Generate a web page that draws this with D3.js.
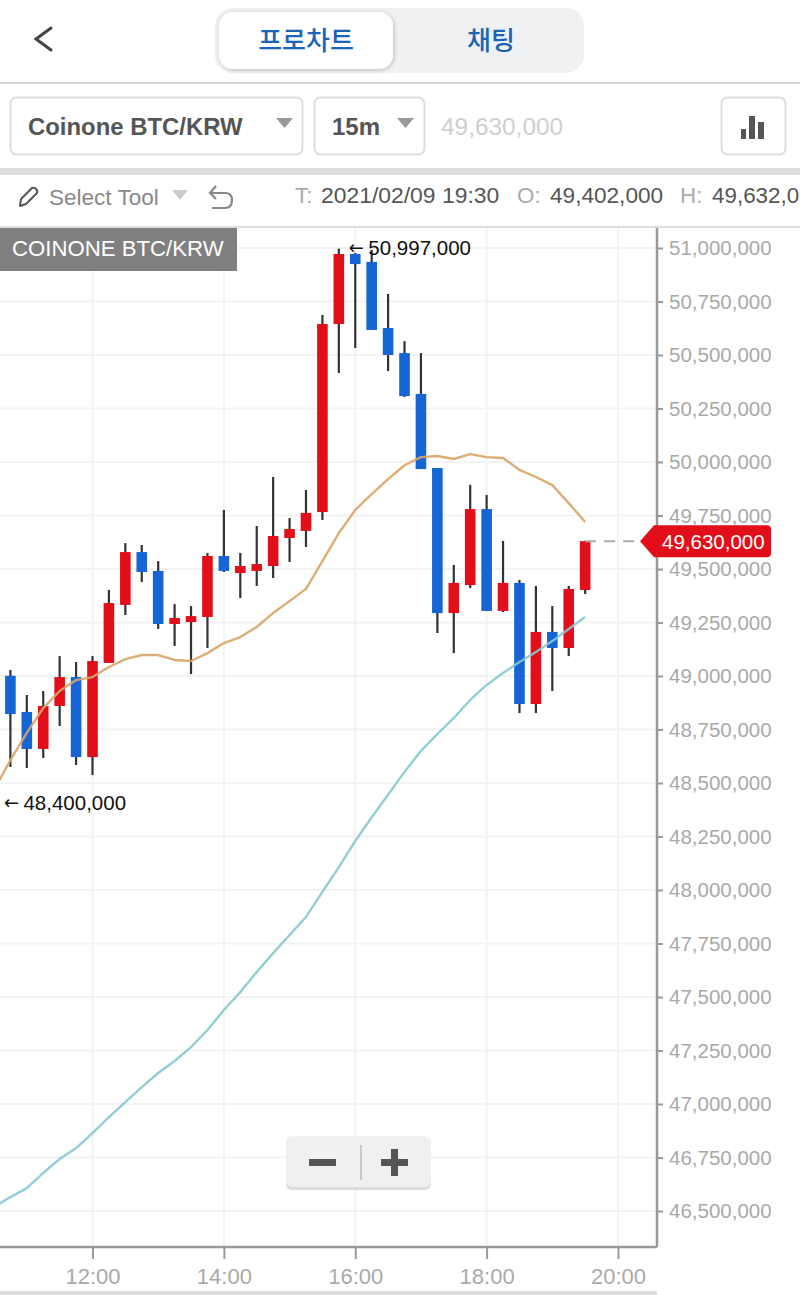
<!DOCTYPE html>
<html>
<head>
<meta charset="utf-8">
<title>Coinone BTC/KRW</title>
<script src="https://cdn.jsdelivr.net/npm/d3@7"></script>
<style>
  body { margin: 0; background: #fff; overflow: hidden; }
  text { font-family: "Liberation Sans", Arial, sans-serif; }
  .kr { font-family: "Noto Sans CJK KR", sans-serif; font-weight: 500; }
</style>
</head>
<body>
<div id="chart"></div>
<script>
// prices are in thousands of KRW
const times = ['10:45','11:00','11:15','11:30','11:45','12:00','12:15','12:30','12:45','13:00','13:15','13:30',
    '13:45','14:00','14:15','14:30','14:45','15:00','15:15','15:30','15:45','16:00','16:15','16:30',
    '16:45','17:00','17:15','17:30','17:45','18:00','18:15','18:30','18:45','19:00','19:15','19:30'];
const opens = [49001,48832,48659,48860,48995,48621,49061,49332,49579,49491,49243,49252,
    49276,49561,49481,49491,49514,49645,49678,49766,50645,50972,50935,50626,
    50509,50318,49972,49294,49425,49780,49304,49435,48869,49206,49131,49402];
const highs = [49028,48911,48930,49093,49065,49093,49402,49621,49612,49537,49336,49327,
    49575,49776,49575,49701,49930,49738,49869,50687,50997,50977,50991,50785,
    50565,50509,49972,49519,49893,49846,49631,49449,49421,49327,49421,49632];
const lows = [48575,48570,48617,48766,48584,48537,49061,49285,49439,49220,49140,49009,
    49131,49486,49364,49421,49458,49533,49603,49729,50416,50533,50617,50425,
    50304,49967,49201,49107,49411,49304,49299,48827,48827,48930,49093,49383];
const closes = [48822,48659,48860,48995,48621,49070,49341,49579,49486,49243,49271,49280,
    49561,49491,49514,49523,49654,49687,49762,50645,50972,50925,50617,50500,
    50308,49967,49294,49435,49780,49304,49435,48869,49206,49131,49407,49630];

// moving averages start one bar earlier, just off the left edge
const maTimes = ['10:30'].concat(times);
const maShort = [48467,48607,48734,48850,48930,48981,48995,49042,49079,49098,49098,49075,49070,
    49107,49154,49182,49229,49294,49350,49407,49537,49668,49776,49850,49920,
    49985,50023,50028,50014,50037,50023,50019,49963,49930,49892,49808,49720];
const maLong = [46519,46565,46607,46678,46743,46794,46864,46939,47009,47079,47145,47201,47266,
    47346,47439,47523,47617,47705,47790,47874,47991,48107,48229,48340,48445,
    48552,48650,48729,48804,48888,48958,49014,49065,49112,49163,49220,49276];

const priceTicks = [51000,50750,50500,50250,50000,49750,49500,49250,49000,48750,48500,
    48250,48000,47750,47500,47250,47000,46750,46500];
const timeTicks = ['12:00','14:00','16:00','18:00','20:00'];

const lastPrice = 49630;
const highMark = { time: '15:45', price: 50997 };
const lowMark = { time: '10:30', price: 48400 };

const RED = '#e20f1b';
const BLUE = '#1565d6';
const LABEL = '#a9a9a9';
const DARK = '#555';

const fmt = v => d3.format(',')(v * 1000);
const toDate = t => new Date(`2021-02-09T${t}:00Z`);

const svg = d3.select('#chart').append('svg')
    .attr('width', 800)
    .attr('height', 1295)
    .style('display', 'block');

const defs = svg.append('defs');
const shadow = defs.append('filter').attr('id', 'btnShadow')
    .attr('x', '-10%').attr('y', '-20%').attr('width', '120%').attr('height', '140%');
shadow.append('feDropShadow')
    .attr('dx', 1).attr('dy', 1).attr('stdDeviation', 2)
    .attr('flood-color', '#000').attr('flood-opacity', 0.22);

/* ---------- chart ---------- */
const plot = { left: 0, right: 657, top: 227, bottom: 1247 };

const x = d3.scaleUtc()
    .domain([toDate('12:00'), toDate('20:00')])
    .range([92.5, 618]);
const y = d3.scaleLinear()
    .domain([51000, 46500])
    .range([248, 1211]);

// grid
const grid = svg.append('g').attr('stroke', '#f3f3f3').attr('stroke-width', 2);
grid.selectAll('.h').data(priceTicks).enter().append('line')
    .attr('x1', plot.left).attr('x2', plot.right)
    .attr('y1', d => y(d)).attr('y2', d => y(d));
grid.selectAll('.v').data(timeTicks).enter().append('line')
    .attr('x1', d => x(toDate(d))).attr('x2', d => x(toDate(d)))
    .attr('y1', plot.top).attr('y2', plot.bottom);

// candles
const candles = times.map((t, i) => ({ t, o: opens[i], h: highs[i], l: lows[i], c: closes[i] }));
const candle = svg.append('g').selectAll('g').data(candles).enter().append('g');
candle.append('line')
    .attr('x1', d => x(toDate(d.t))).attr('x2', d => x(toDate(d.t)))
    .attr('y1', d => y(d.h)).attr('y2', d => y(d.l))
    .attr('stroke', '#333').attr('stroke-width', 2.2);
candle.append('rect')
    .attr('x', d => x(toDate(d.t)) - 5.3)
    .attr('width', 10.6)
    .attr('y', d => y(Math.max(d.o, d.c)))
    .attr('height', d => Math.max(1, Math.abs(y(d.o) - y(d.c))))
    .attr('fill', d => d.c >= d.o ? RED : BLUE);

// moving averages
const maLine = d3.line()
    .x((d, i) => x(toDate(maTimes[i])))
    .y(d => y(d));
svg.append('path').attr('d', maLine(maShort))
    .attr('fill', 'none').attr('stroke', '#d8a566').attr('stroke-width', 2.4).attr('opacity', 0.9)
    .attr('stroke-linejoin', 'round');
svg.append('path').attr('d', maLine(maLong))
    .attr('fill', 'none').attr('stroke', '#86c9cf').attr('stroke-width', 2.4).attr('opacity', 0.9)
    .attr('stroke-linejoin', 'round');

// axes
const yAxis = svg.append('g')
    .attr('transform', `translate(${plot.right},0)`)
    .call(d3.axisRight(y).tickValues(priceTicks).tickFormat(fmt).tickSize(6).tickPadding(6));
yAxis.select('.domain').attr('d', `M0,${plot.top}V${plot.bottom}`);
const xAxis = svg.append('g')
    .attr('transform', `translate(0,${plot.bottom})`)
    .call(d3.axisBottom(x).tickValues(timeTicks.map(toDate)).tickFormat(d3.utcFormat('%H:%M')).tickSize(12).tickPadding(9));
xAxis.select('.domain').attr('d', `M${plot.left},0H${plot.right}`);
svg.selectAll('.domain').attr('stroke', '#999').attr('stroke-width', 2.5);
svg.selectAll('.tick line').attr('stroke', '#999').attr('stroke-width', 2);
svg.selectAll('.tick text')
    .attr('fill', LABEL)
    .style('font-family', '"Liberation Sans", Arial, sans-serif');
yAxis.selectAll('.tick text').style('font-size', '20.5px');
xAxis.selectAll('.tick text').style('font-size', '22px');

// high / low marks
[highMark, lowMark].forEach(m => {
    const mx = x(toDate(m.time));
    svg.append('text')
        .attr('x', mx + 10).attr('y', y(m.price) + 5)
        .attr('fill', '#111')
        .style('font-size', '19px').style('font-family', '"DejaVu Sans", sans-serif')
        .attr('textLength', 15).attr('lengthAdjust', 'spacingAndGlyphs')
        .text('←');
    svg.append('text')
        .attr('x', mx + 29.5).attr('y', y(m.price) + 6)
        .attr('fill', '#111')
        .style('font-size', '20.5px')
        .text(fmt(m.price));
});

// last price tag
const tagY = y(lastPrice);
svg.append('line')
    .attr('x1', x(toDate('19:30'))).attr('x2', 640)
    .attr('y1', tagY).attr('y2', tagY)
    .attr('stroke', '#aaa').attr('stroke-width', 2).attr('stroke-dasharray', '11 8');
svg.append('path')
    .attr('d', `M640,${tagY}L654,${tagY - 16}H767Q771,${tagY - 16} 771,${tagY - 12}V${tagY + 12}Q771,${tagY + 16} 767,${tagY + 16}H654Z`)
    .attr('fill', RED);
svg.append('text')
    .attr('x', 662).attr('y', tagY + 8)
    .attr('fill', '#fff')
    .style('font-size', '20.5px')
    .text(fmt(lastPrice));

// symbol label
svg.append('rect').attr('x', 0).attr('y', plot.top).attr('width', 237).attr('height', 44).attr('fill', '#808080');
svg.append('text').attr('x', 12).attr('y', 256).attr('fill', '#fff')
    .style('font-size', '22.2px').text('COINONE BTC/KRW');

// zoom control
const zoomBox = svg.append('g');
zoomBox.append('rect').attr('x', 286).attr('y', 1138).attr('width', 145).attr('height', 52).attr('rx', 6).attr('fill', '#dcdcdc');
zoomBox.append('rect').attr('x', 286).attr('y', 1136).attr('width', 145).attr('height', 51).attr('rx', 6).attr('fill', '#f1f1f1').attr('opacity', 0.92);
zoomBox.append('line').attr('x1', 361).attr('x2', 361).attr('y1', 1145).attr('y2', 1180).attr('stroke', '#bbb').attr('stroke-width', 1.5);
zoomBox.append('rect').attr('x', 309).attr('y', 1159).attr('width', 27).attr('height', 7).attr('fill', '#555');
zoomBox.append('rect').attr('x', 381).attr('y', 1159).attr('width', 27).attr('height', 7).attr('fill', '#555');
zoomBox.append('rect').attr('x', 391).attr('y', 1149).attr('width', 7).attr('height', 27).attr('fill', '#555');

// bottom band
svg.append('rect').attr('x', 0).attr('y', 1291).attr('width', 657).attr('height', 4).attr('fill', '#ddd');

/* ---------- page header ---------- */
svg.append('path').attr('d', 'M51,28L36,39L51,50')
    .attr('fill', 'none').attr('stroke', '#444').attr('stroke-width', 3).attr('stroke-linecap', 'round');

svg.append('rect').attr('x', 215).attr('y', 8).attr('width', 369).attr('height', 65).attr('rx', 18).attr('fill', '#f0f1f3');
svg.append('rect').attr('x', 219).attr('y', 12).attr('width', 174).attr('height', 57).attr('rx', 14)
    .attr('fill', '#fff').attr('filter', 'url(#btnShadow)');
svg.append('text').attr('class', 'kr').attr('x', 306).attr('y', 50).attr('text-anchor', 'middle')
    .attr('fill', '#1a65b5').style('font-size', '26px').text('프로차트');
svg.append('text').attr('class', 'kr').attr('x', 491).attr('y', 50).attr('text-anchor', 'middle')
    .attr('fill', '#1a65b5').style('font-size', '26px').text('채팅');
svg.append('rect').attr('x', 0).attr('y', 82).attr('width', 800).attr('height', 2).attr('fill', '#d4d4d4');

// selector row
[[10, 292], [314, 110], [721, 64]].forEach(b => {
    svg.append('rect').attr('x', b[0] + 0.5).attr('y', 97.5).attr('width', b[1]).attr('height', 57).attr('rx', 6)
        .attr('fill', '#fff').attr('stroke', '#ddd').attr('stroke-width', 2);
});
svg.append('text').attr('x', 28).attr('y', 135).attr('fill', DARK)
    .style('font-size', '23.9px').style('font-weight', 700).text('Coinone BTC/KRW');
svg.append('text').attr('x', 332).attr('y', 135).attr('fill', DARK)
    .style('font-size', '24px').style('font-weight', 700).text('15m');
svg.append('text').attr('x', 441).attr('y', 135).attr('fill', '#cfcfcf')
    .style('font-size', '24.4px').text(fmt(lastPrice));
[[276, 118, 17, 10, '#999'], [397, 118, 17, 10, '#999'], [172, 190, 16, 10, '#ccc']].forEach(a => {
    svg.append('path').attr('d', `M${a[0]},${a[1]}h${a[2]}l${-a[2] / 2},${a[3]}Z`).attr('fill', a[4]);
});
// bar icon
[[741, 129, 5, 10], [749, 116, 6, 23], [758, 122, 6, 17]].forEach(b => {
    svg.append('rect').attr('x', b[0]).attr('y', b[1]).attr('width', b[2]).attr('height', b[3]).attr('fill', DARK);
});
svg.append('rect').attr('x', 0).attr('y', 168).attr('width', 800).attr('height', 7).attr('fill', '#ddd');

// tool row
svg.append('path').attr('d', 'M20,206L21,199L32,188Q34,187 36,189Q38,191 37,193L26,204Z')
    .attr('fill', 'none').attr('stroke', '#555').attr('stroke-width', 2).attr('stroke-linejoin', 'round');
svg.append('text').attr('x', 49).attr('y', 205).attr('fill', '#888').style('font-size', '22.5px').text('Select Tool');
svg.append('path').attr('d', 'M216,186L210,193L216,199M210,193H225Q232,193 232,200Q232,208 225,208H212')
    .attr('fill', 'none').attr('stroke', '#888').attr('stroke-width', 2.2);

// the high value runs off the screen edge in the reference
const infoItems = [
    ['T:', 295, '#aaa', 22.4], ['2021/02/09 19:30', 321, DARK, 22.9],
    ['O:', 517, '#aaa', 22.4], ['49,402,000', 550, DARK, 22.6],
    ['H:', 680, '#aaa', 22.4], ['49,632,0', 712, DARK, 22.4]
];
infoItems.forEach(d => {
    svg.append('text').attr('x', d[1]).attr('y', 203).attr('fill', d[2]).style('font-size', `${d[3]}px`).text(d[0]);
});
svg.append('rect').attr('x', 0).attr('y', 226).attr('width', 800).attr('height', 2).attr('fill', '#ddd');
</script>
</body>
</html>
